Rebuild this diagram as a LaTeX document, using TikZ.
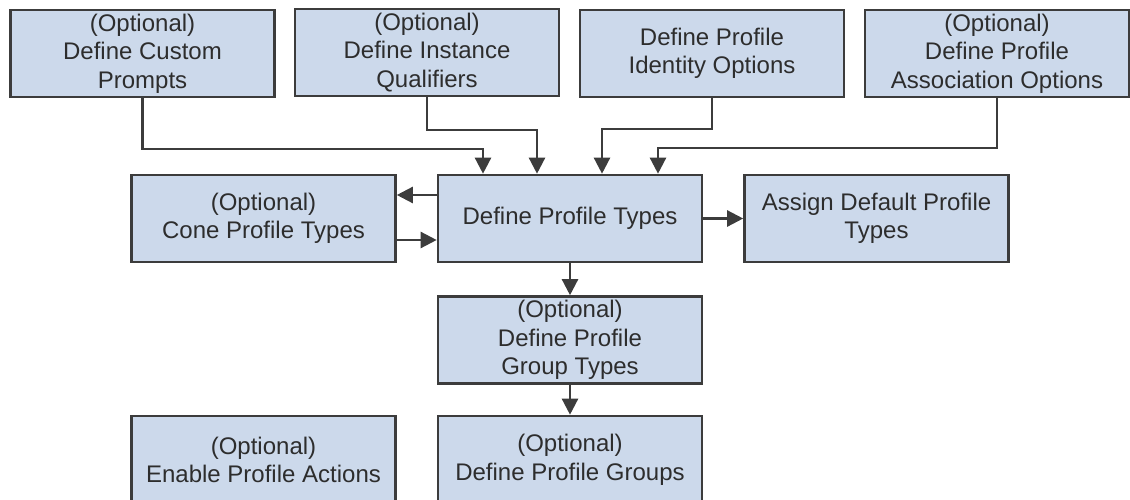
\documentclass[tikz,border=0pt]{standalone}
\usepackage{fontspec}
\setmainfont{Liberation Sans}
\usetikzlibrary{arrows.meta}
\definecolor{boxfill}{RGB}{204,217,235}
\definecolor{boxline}{RGB}{60,60,60}
\definecolor{txt}{RGB}{45,45,45}
\begin{document}
\begin{tikzpicture}[x=1pt,y=-1pt,
  stepbox/.style={draw=boxline,fill=boxfill,line width=2.6pt,inner sep=0pt,
    minimum width=264pt,minimum height=87pt,align=center,text=txt,
    font=\fontsize{24}{28.5}\selectfont},
  arr/.style={draw=boxline,line width=2.4pt,-{Triangle[length=16pt,width=16pt]}}]
\useasboundingbox (0,0) rectangle (1130,500);
\clip (0,0) rectangle (1130,500);
% top row
\node[stepbox] (b1) at (142.5,53.5) {(Optional)\\Define Custom\\Prompts};
\node[stepbox] (b2) at (427,52.5) {(Optional)\\Define Instance\\Qualifiers};
\node[stepbox] (b3) at (712,53.5) {Define Profile\\Identity Options};
\node[stepbox] (b4) at (997,53.5) {(Optional)\\Define Profile\\Association Options};
% middle row
\node[stepbox] (dpt) at (570,218.5) {Define Profile Types};
\node[stepbox] (cone) at (263.5,218.5) {(Optional)\\Cone Profile Types};
\node[stepbox] (assign) at (876.5,218.5) {Assign Default Profile\\Types};
% lower
\node[stepbox] (gtypes) at (570,340) {(Optional)\\Define Profile\\Group Types};
\node[stepbox,minimum height=88pt] (enable) at (263.5,460) {(Optional)\\Enable Profile Actions};
\node[stepbox,minimum height=88pt] (groups) at (570,460) {(Optional)\\Define Profile Groups};
% connectors from top row
\draw[arr] (b1.south) -- ++(0,51) -| ([xshift=-87pt]dpt.north);
\draw[arr] (b2.south) -- ++(0,32.5) -| ([xshift=-33pt]dpt.north);
\draw[arr] (b3.south) -- ++(0,31) -| ([xshift=32pt]dpt.north);
\draw[arr] (b4.south) -- ++(0,50) -| ([xshift=88pt]dpt.north);
% middle connectors
\draw[arr] ([yshift=23.5pt]dpt.west) -- ([yshift=23.5pt]cone.east);
\draw[arr] ([yshift=-21.5pt]cone.east) -- ([yshift=-21.5pt]dpt.west);
\draw[arr] (dpt.east) -- (assign.west);
\draw[arr] (dpt.south) -- (gtypes.north);
\draw[arr] (gtypes.south) -- (groups.north);
\end{tikzpicture}
\end{document}
